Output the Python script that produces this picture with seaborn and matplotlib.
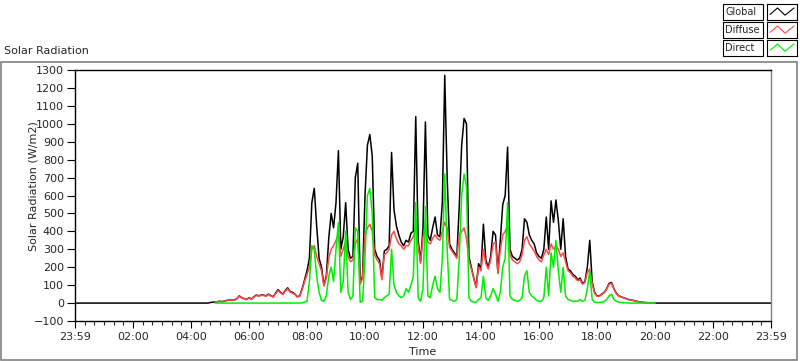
import numpy as np
import pandas as pd
import matplotlib
matplotlib.use("Agg")
from matplotlib import pyplot as plt
from matplotlib.patches import Rectangle
import seaborn as sns

# readings every 5 minutes from 04:30 to 20:00 (W/m2); global is zero outside
start_hour = 4.5
global_w = [
    0, 0, 3, 5, 6, 8, 10, 8, 12, 15, 18, 17,
    17, 25, 40, 30, 25, 20, 30, 22, 35, 45, 40, 45,
    45, 40, 50, 42, 35, 55, 75, 60, 50, 70, 85, 65,
    60, 50, 35, 40, 80, 130, 180, 250, 560, 640, 430, 250,
    200, 100, 150, 360, 500, 420, 560, 850, 300, 370, 560, 300,
    250, 260, 700, 780, 110, 150, 600, 880, 940, 820, 300, 260,
    240, 140, 290, 300, 320, 840, 520, 430, 380, 340, 320, 350,
    340, 390, 400, 1040, 350, 230, 420, 1010, 380, 350, 420, 480,
    380, 370, 560, 1270, 700, 330, 300, 280, 260, 540, 880, 1030,
    1000, 260, 200, 140, 90, 220, 190, 440, 240, 200, 260, 400,
    380, 170, 350, 550, 600, 870, 300, 260, 250, 240, 250, 300,
    470, 450, 380, 350, 330, 280, 260, 250, 300, 480, 300, 570,
    450, 575, 460, 300, 470, 260, 190, 180, 160, 150, 130, 140,
    110, 120, 200, 350, 120, 60, 40, 40, 50, 60, 80, 110,
    115, 80, 55, 40, 35, 30, 25, 20, 18, 15, 12, 8,
    6, 4, 3, 2, 1, 0, 0,
]
diffuse_w = [
    0, 0, 3, 5, 6, 8, 10, 8, 12, 15, 18, 17,
    16, 24, 38, 29, 24, 19, 29, 21, 33, 43, 38, 43,
    43, 38, 48, 40, 33, 52, 70, 57, 48, 66, 80, 62,
    55, 48, 33, 38, 75, 120, 160, 200, 300, 320, 260, 220,
    180, 95, 140, 250, 300, 320, 350, 380, 260, 300, 340, 260,
    230, 240, 330, 360, 105, 140, 380, 420, 440, 400, 270, 240,
    220, 130, 270, 280, 300, 380, 400, 360, 330, 320, 300, 320,
    320, 350, 370, 420, 320, 220, 370, 420, 340, 330, 360, 380,
    360, 350, 400, 450, 420, 310, 290, 270, 250, 380, 400, 420,
    360, 240, 190, 135, 85, 200, 180, 300, 220, 190, 240, 330,
    340, 165, 300, 380, 400, 430, 270, 240, 230, 220, 230, 270,
    350, 370, 330, 310, 290, 260, 240, 230, 270, 300, 270, 330,
    300, 320, 300, 260, 280, 230, 180, 170, 150, 140, 125, 130,
    105, 115, 170, 190, 110, 55, 38, 38, 48, 58, 78, 105,
    110, 78, 53, 39, 34, 29, 24, 19, 17, 14, 11, 7,
    5, 4, 3, 2, 1, 0, 0,
]
direct_w = [
    0, 0, 0, 0, 0, 0, 0, 0, 0, 0, 0, 0,
    0, 0, 0, 0, 0, 0, 0, 0, 0, 0, 0, 0,
    0, 0, 0, 0, 0, 0, 0, 0, 0, 0, 0, 0,
    0, 0, 0, 0, 2, 5, 10, 120, 320, 300, 150, 60,
    15, 10, 40, 150, 200, 120, 300, 450, 60, 120, 400, 60,
    20, 40, 420, 400, 5, 10, 250, 600, 640, 500, 30, 20,
    20, 15, 30, 40, 50, 300, 100, 60, 40, 30, 40, 80,
    60, 100, 150, 560, 30, 10, 80, 540, 40, 30, 100, 150,
    80, 60, 250, 720, 300, 20, 15, 10, 20, 250, 600, 720,
    650, 30, 10, 5, 5, 20, 30, 150, 30, 15, 40, 80,
    50, 10, 60, 200, 250, 560, 40, 20, 15, 10, 15, 30,
    150, 180, 60, 40, 30, 15, 10, 10, 30, 200, 40, 280,
    200, 350, 180, 60, 200, 40, 20, 15, 10, 10, 10, 20,
    10, 15, 80, 180, 20, 5, 3, 3, 5, 10, 20, 40,
    50, 20, 10, 5, 3, 2, 1, 0, 0, 0, 0, 0,
    0, 0, 0, 0, 0, 0, 0,
]
x_tick_hours = [0, 2, 4, 6, 8, 10, 12, 14, 16, 18, 20, 22, 24]
x_tick_labels = ["23:59", "02:00", "04:00", "06:00", "08:00", "10:00", "12:00",
                 "14:00", "16:00", "18:00", "20:00", "22:00", "23:59"]
y_ticks = list(range(-100, 1301, 100))

series = {"Global": global_w, "Diffuse": diffuse_w, "Direct": direct_w}
colors = {"Global": "#000000", "Diffuse": "#ff4848", "Direct": "#00ee00"}

day_hours = start_hour + np.arange(len(global_w)) / 12
frames = []
for name, vals in series.items():
    if name == "Global":
        # global line runs along zero for the whole day
        h = np.concatenate([[0.0], day_hours, [24.0]])
        v = np.concatenate([[0], vals, [0]])
    else:
        h = day_hours[4:]
        v = np.array(vals)[4:]
    frames.append(pd.DataFrame({"hour": h, "value": v, "series": name}))
df = pd.concat(frames, ignore_index=True)

sns.set_style("ticks")
plt.rcParams["font.family"] = ["DejaVu Sans"]

W, H = 800, 361
fig = plt.figure(figsize=(8, 3.61), dpi=100)
ax = fig.add_axes([75 / W, 1 - 321 / H, (771 - 75) / W, (321 - 70) / H])

for name in series:
    sns.lineplot(data=df[df["series"] == name], x="hour", y="value",
                 color=colors[name], lw=1.1, ax=ax, legend=False)

ax.set_xlim(0, 24)
ax.set_ylim(-100, 1300)
ax.set_xticks(x_tick_hours)
ax.set_xticklabels(x_tick_labels)
ax.set_xticks(np.arange(0, 24.01, 1 / 3), minor=True)
ax.set_yticks(y_ticks)
ax.tick_params(axis="both", labelsize=8, direction="out", width=0.8, color="black")
ax.tick_params(axis="y", length=6, pad=2)
ax.tick_params(axis="x", which="major", length=5, pad=3)
ax.tick_params(axis="x", which="minor", length=3, width=0.8)
ax.set_xlabel("")
ax.set_ylabel("")
for s in ax.spines.values():
    s.set_color("black")
    s.set_linewidth(1.0)
ax.spines["right"].set_color("#808080")

fig.text(33 / W, 1 - 186 / H, "Solar Radiation (W/m2)", rotation=90,
         ha="center", va="center", fontsize=8)
fig.text(423 / W, 1 - 352 / H, "Time", ha="center", va="center", fontsize=8)
fig.text(4 / W, 1 - 51 / H, "Solar Radiation", ha="left", va="center", fontsize=8)

# outer panel frame
fig.patches.append(Rectangle((1 / W, 1 / H), 796 / W, (360 - 62) / H,
                             transform=fig.transFigure, fill=False,
                             edgecolor="#808080", lw=1.2))

# legend boxes
for i, name in enumerate(series):
    top = 4 + 18 * i
    fig.patches.append(Rectangle((723 / W, 1 - (top + 16) / H), 40 / W, 16 / H,
                                 transform=fig.transFigure, fill=True,
                                 facecolor="white", edgecolor="black", lw=0.8))
    fig.text(725 / W, 1 - (top + 8) / H, name, ha="left", va="center", fontsize=7)
    sw = fig.add_axes([767 / W, 1 - (top + 16) / H, 30 / W, 16 / H])
    sw.plot([0.1, 0.35, 0.6, 0.9], [0.35, 0.75, 0.3, 0.75], color=colors[name], lw=0.8)
    sw.set_xlim(0, 1)
    sw.set_ylim(0, 1)
    sw.set_xticks([])
    sw.set_yticks([])
    for s in sw.spines.values():
        s.set_color("black")
        s.set_linewidth(0.8)

fig.savefig("out.png", dpi=100)
